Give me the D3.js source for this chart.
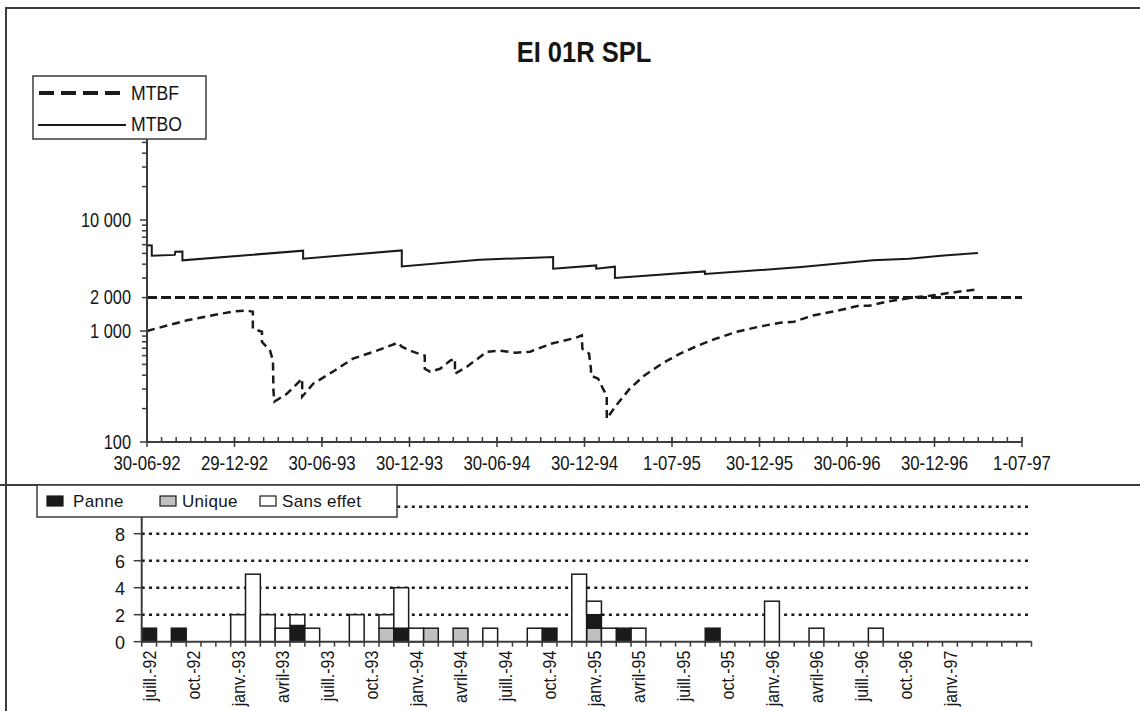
<!DOCTYPE html>
<html>
<head>
<meta charset="utf-8">
<script src="https://cdn.jsdelivr.net/npm/d3@7"></script>
<style>
  html, body { margin: 0; padding: 0; background: #fff; }
  svg { display: block; }
  text { fill: #151515; font-family: "Liberation Sans", Arial, sans-serif; }
</style>
</head>
<body>
<svg id="chart" width="1140" height="711"></svg>
<script>
// ---------- data ----------
const chartTitle = "EI 01R SPL";

// MTBF curve (hours), dated points; repeated dates are vertical drops
const mtbfDates = [
  "1992-06-30","1992-08-11","1992-09-22","1992-11-08","1992-12-27","1993-01-25","1993-02-06","1993-02-06",
  "1993-02-25","1993-02-25","1993-03-14","1993-03-20","1993-03-21","1993-03-23","1993-04-18","1993-05-20",
  "1993-05-20","1993-06-12","1993-07-23","1993-09-03","1993-10-23","1993-12-06","1993-12-14","1994-01-06",
  "1994-01-31","1994-01-31","1994-02-11","1994-03-04","1994-03-25","1994-04-04","1994-04-04","1994-04-29",
  "1994-06-10","1994-07-07","1994-08-09","1994-09-08","1994-10-22","1994-12-13","1994-12-25","1994-12-26",
  "1995-01-09","1995-01-13","1995-01-13","1995-01-28","1995-02-07","1995-02-15","1995-02-15","1995-03-06",
  "1995-04-04","1995-05-04","1995-06-10","1995-07-18","1995-08-24","1995-10-01","1995-11-14","1995-12-30",
  "1996-02-12","1996-03-12","1996-04-19","1996-06-10","1996-07-26","1996-08-16","1996-09-22","1996-11-13",
  "1996-12-21","1997-02-03","1997-03-31"
];
const mtbfValues = [
  1000, 1120, 1250, 1370, 1500, 1530, 1490, 1050,
  985, 800, 665, 540, 290, 231, 272, 372,
  256, 335, 430, 564, 665, 785, 722, 651,
  600, 457, 430, 457, 540, 564, 412, 477,
  651, 665, 637, 651, 769, 870, 913, 693,
  625, 457, 396, 372, 302, 261, 162, 212,
  302, 396, 508, 625, 738, 853, 986, 1093,
  1188, 1213, 1374, 1523, 1690, 1690, 1836, 1996,
  2080, 2213, 2380
];

// MTBO curve (hours)
const mtboDates = [
  "1992-06-30","1992-07-10","1992-07-10","1992-08-27","1992-08-28","1992-09-12","1992-09-12","1993-05-22",
  "1993-05-22","1993-12-14","1993-12-14","1994-05-25","1994-10-26","1994-10-26","1995-01-24","1995-01-24",
  "1995-03-04","1995-03-04","1995-09-08","1995-09-08","1996-03-27","1996-08-24","1996-11-07","1997-01-19",
  "1997-03-31"
];
const mtboValues = [
  5930, 5900, 4770, 4850, 5180, 5200, 4330, 5290,
  4480, 5320, 3820, 4390, 4640, 3640, 3900, 3640,
  3800, 3000, 3440, 3260, 3770, 4330, 4480, 4800,
  5040
];

const mtbfTarget = 2000;

const yTopTickValues = [100, 1000, 2000, 10000];
const xTopTickLabels = ["30-06-92","29-12-92","30-06-93","30-12-93","30-06-94","30-12-94",
                        "1-07-95","30-12-95","30-06-96","30-12-96","1-07-97"];

// monthly event counts, July 1992 .. June 1997
const monthAbbr = ["janv.","févr.","mars","avril","mai","juin","juill.","août","sept.","oct.","nov.","déc."];
const panne = [
  1,0,1,0,0,0, 0,0,0,0,1.2,0,
  0,0,0,0,0,1, 0,0,0,0,0,0,
  0,0,0,1,0,0, 1,0,1,0,0,0,
  0,0,1,0,0,0, 0,0,0,0,0,0,
  0,0,0,0,0,0, 0,0,0,0,0,0
];
const unique = [
  0,0,0,0,0,0, 0,0,0,0,0,0,
  0,0,0,0,1,0, 0,1,0,1,0,0,
  0,0,0,0,0,0, 1,0,0,0,0,0,
  0,0,0,0,0,0, 0,0,0,0,0,0,
  0,0,0,0,0,0, 0,0,0,0,0,0
];
const sansEffet = [
  0,0,0,0,0,0, 2,5,2,1,0.8,1,
  0,0,2,0,1,3, 1,0,0,0,0,1,
  0,0,1,0,0,5, 1,1,0,1,0,0,
  0,0,0,0,0,0, 3,0,0,1,0,0,
  0,1,0,0,0,0, 0,0,0,0,0,0
];
const barTickLabels = ["juill.-92","oct.-92","janv.-93","avril-93","juill.-93","oct.-93","janv.-94",
  "avril-94","juill.-94","oct.-94","janv.-95","avril-95","juill.-95","oct.-95","janv.-96",
  "avril-96","juill.-96","oct.-96","janv.-97"];
const yBarTickValues = [0, 2, 4, 6, 8];
const yBarGridValues = [2, 4, 6, 8, 10];

const seriesInfo = [
  { key: "panne", label: "Panne", color: "#1a1a1a" },
  { key: "unique", label: "Unique", color: "#c0c0c0" },
  { key: "sansEffet", label: "Sans effet", color: "#ffffff" }
];
const stackOrder = ["unique", "panne", "sansEffet"];

// ---------- drawing ----------
(function draw() {
  const parse = d3.timeParse("%Y-%m-%d");
  const svg = d3.select("#chart");
  const ink = "#1a1a1a";
  const edge = "#3c3c3c";
  const NARROW = 0.84; // horizontal squeeze giving a condensed face

  // condensed text: position, optional rotation, then horizontal squeeze
  function condensed(parent, x, y, str, size, opts = {}) {
    const rot = opts.rotate ? ` rotate(${opts.rotate})` : "";
    return parent.append("text")
      .attr("transform", `translate(${x},${y})${rot} scale(${opts.sx || NARROW},1)`)
      .attr("font-size", size)
      .attr("font-weight", opts.weight || "normal")
      .attr("text-anchor", opts.anchor || "start")
      .attr("dy", opts.dy || null)
      .text(str);
  }

  // frames
  svg.append("path").attr("d", "M6,711 V8 H1140").attr("fill", "none")
    .attr("stroke", edge).attr("stroke-width", 2);
  svg.append("line").attr("x1", 0).attr("x2", 1140).attr("y1", 485).attr("y2", 485)
    .attr("stroke", edge).attr("stroke-width", 2);

  // ===== upper chart =====
  const t0 = parse("1992-06-30"), t1 = parse("1997-07-01");
  const xTop = d3.scaleTime().domain([t0, t1]).range([147, 1022]);
  const yTop = d3.scaleLog().domain([100, 100000]).range([442, 109]);
  const frFmt = d3.formatLocale({ decimal: ",", thousands: " ", grouping: [3], currency: ["", " €"] }).format(",");

  condensed(svg, 584, 62, chartTitle, 29, { anchor: "middle", weight: "bold", sx: 0.88 });

  const gTop = svg.append("g");

  // target line
  gTop.append("line")
    .attr("x1", xTop.range()[0]).attr("x2", xTop.range()[1])
    .attr("y1", yTop(mtbfTarget)).attr("y2", yTop(mtbfTarget))
    .attr("stroke", ink).attr("stroke-width", 3).attr("stroke-dasharray", "10,4");

  const mtbo = mtboDates.map((d, i) => ({ date: parse(d), value: mtboValues[i] }));
  const mtbf = mtbfDates.map((d, i) => ({ date: parse(d), value: mtbfValues[i] }));
  const lineGen = d3.line().x(d => xTop(d.date)).y(d => yTop(d.value));

  gTop.append("path").datum(mtbo).attr("d", lineGen)
    .attr("fill", "none").attr("stroke", ink).attr("stroke-width", 2);
  gTop.append("path").datum(mtbf).attr("d", lineGen)
    .attr("fill", "none").attr("stroke", ink).attr("stroke-width", 2.5)
    .attr("stroke-dasharray", "8,5");

  // y axis (log)
  const yx = xTop.range()[0];
  gTop.append("line").attr("x1", yx).attr("x2", yx)
    .attr("y1", yTop.range()[0]).attr("y2", yTop.range()[1])
    .attr("stroke", edge).attr("stroke-width", 2);
  const minorY = [];
  [100, 1000, 10000].forEach(dec => d3.range(2, 10).forEach(m => minorY.push(dec * m)));
  gTop.selectAll(".ymin").data(minorY).join("line")
    .attr("x1", yx - 5).attr("x2", yx).attr("y1", d => yTop(d)).attr("y2", d => yTop(d))
    .attr("stroke", edge).attr("stroke-width", 1.5);
  gTop.selectAll(".ymaj").data([100, 1000, 10000, 100000]).join("line")
    .attr("x1", yx - 7).attr("x2", yx).attr("y1", d => yTop(d)).attr("y2", d => yTop(d))
    .attr("stroke", edge).attr("stroke-width", 1.5);
  yTopTickValues.forEach(v =>
    condensed(gTop, yx - 16, yTop(v), frFmt(v), 19.5, { anchor: "end", dy: "0.35em" }));

  // x axis (dates)
  const xy = yTop.range()[0];
  gTop.append("line").attr("x1", xTop.range()[0]).attr("x2", xTop.range()[1])
    .attr("y1", xy).attr("y2", xy).attr("stroke", edge).attr("stroke-width", 2);
  const majorX = d3.range(11).map(i => new Date(+t0 + i * (t1 - t0) / 10));
  const minorX = d3.range(61).map(i => new Date(+t0 + i * (t1 - t0) / 60));
  gTop.selectAll(".xmin").data(minorX).join("line")
    .attr("x1", d => xTop(d)).attr("x2", d => xTop(d)).attr("y1", xy - 5).attr("y2", xy)
    .attr("stroke", edge).attr("stroke-width", 1.5);
  gTop.selectAll(".xmaj").data(majorX).join("line")
    .attr("x1", d => xTop(d)).attr("x2", d => xTop(d)).attr("y1", xy - 5).attr("y2", xy + 5)
    .attr("stroke", edge).attr("stroke-width", 1.5);
  majorX.forEach((d, i) =>
    condensed(gTop, xTop(d), xy + 28, xTopTickLabels[i], 20, { anchor: "middle" }));

  // legend of the upper chart
  const lg = svg.append("g");
  lg.append("rect").attr("x", 33).attr("y", 76).attr("width", 173).attr("height", 63)
    .attr("fill", "#fff").attr("stroke", edge).attr("stroke-width", 1.5);
  lg.append("line").attr("x1", 39).attr("x2", 120).attr("y1", 93).attr("y2", 93)
    .attr("stroke", ink).attr("stroke-width", 4).attr("stroke-dasharray", "15,7");
  lg.append("line").attr("x1", 38).attr("x2", 126).attr("y1", 125).attr("y2", 125)
    .attr("stroke", ink).attr("stroke-width", 2);
  condensed(lg, 131, 100, "MTBF", 21);
  condensed(lg, 131, 131, "MTBO", 21);

  // ===== lower chart =====
  // month categories from July 1992
  const categories = d3.range(60).map(i => {
    const k = 6 + i;
    return monthAbbr[k % 12] + "-" + String((92 + Math.floor(k / 12)) % 100).padStart(2, "0");
  });
  const xBar = d3.scaleBand().domain(categories).range([141.7, 1031.5]).padding(0);
  const yBar = d3.scaleLinear().domain([0, 10]).range([641.7, 506.7]);

  const rows = categories.map((c, i) => ({ cat: c, panne: panne[i], unique: unique[i], sansEffet: sansEffet[i] }));
  const stacked = d3.stack().keys(stackOrder)(rows);
  const colorOf = Object.fromEntries(seriesInfo.map(s => [s.key, s.color]));

  const gBot = svg.append("g");

  // dotted grid lines
  gBot.selectAll(".grid").data(yBarGridValues).join("line")
    .attr("x1", xBar.range()[0]).attr("x2", 1030)
    .attr("y1", d => yBar(d)).attr("y2", d => yBar(d))
    .attr("stroke", ink).attr("stroke-width", 2.5).attr("stroke-dasharray", "3,4.3");

  // stacked bars
  stacked.forEach(layer => {
    gBot.append("g").selectAll("rect")
      .data(layer.filter(d => d[1] - d[0] > 0))
      .join("rect")
      .attr("x", d => xBar(d.data.cat))
      .attr("width", xBar.bandwidth())
      .attr("y", d => yBar(d[1]))
      .attr("height", d => yBar(d[0]) - yBar(d[1]))
      .attr("fill", colorOf[layer.key])
      .attr("stroke", ink).attr("stroke-width", 1.5);
  });

  // axes
  const bx = xBar.range()[0];
  gBot.append("line").attr("x1", bx).attr("x2", bx).attr("y1", yBar(0)).attr("y2", yBar(10))
    .attr("stroke", edge).attr("stroke-width", 2);
  gBot.selectAll(".ytk").data(yBarGridValues.concat([0])).join("line")
    .attr("x1", bx - 8).attr("x2", bx).attr("y1", d => yBar(d)).attr("y2", d => yBar(d))
    .attr("stroke", edge).attr("stroke-width", 1.5);
  yBarTickValues.forEach(v =>
    condensed(gBot, 125, yBar(v), String(v), 19, { anchor: "end", dy: "0.36em", sx: 0.95 }));

  gBot.append("line").attr("x1", xBar.range()[0]).attr("x2", xBar.range()[1])
    .attr("y1", yBar(0)).attr("y2", yBar(0)).attr("stroke", edge).attr("stroke-width", 2);
  const bandEdges = categories.map(c => xBar(c)).concat([xBar.range()[1]]);
  gBot.selectAll(".xtk").data(bandEdges).join("line")
    .attr("x1", d => d).attr("x2", d => d).attr("y1", yBar(0)).attr("y2", yBar(0) + 5)
    .attr("stroke", edge).attr("stroke-width", 1.5);
  barTickLabels.forEach(lbl =>
    condensed(gBot, xBar(lbl) + xBar.bandwidth() / 2, yBar(0) + 9, lbl, 19,
      { anchor: "end", dy: "0.35em", rotate: -90 }));

  // legend of the lower chart
  const lg2 = svg.append("g");
  lg2.append("rect").attr("x", 37).attr("y", 485).attr("width", 360).attr("height", 32)
    .attr("fill", "#fff").attr("stroke", edge).attr("stroke-width", 1.5);
  const legendX = [47, 160, 260];
  seriesInfo.forEach((s, i) => {
    lg2.append("rect").attr("x", legendX[i]).attr("y", 496).attr("width", 16).attr("height", 10)
      .attr("fill", s.color).attr("stroke", ink).attr("stroke-width", 1.2);
    lg2.append("text").attr("font-size", 17).attr("letter-spacing", 0.3)
      .attr("x", legendX[i] + (i === 0 ? 26 : 22)).attr("y", 507).text(s.label);
  });
})();
</script>
</body>
</html>
